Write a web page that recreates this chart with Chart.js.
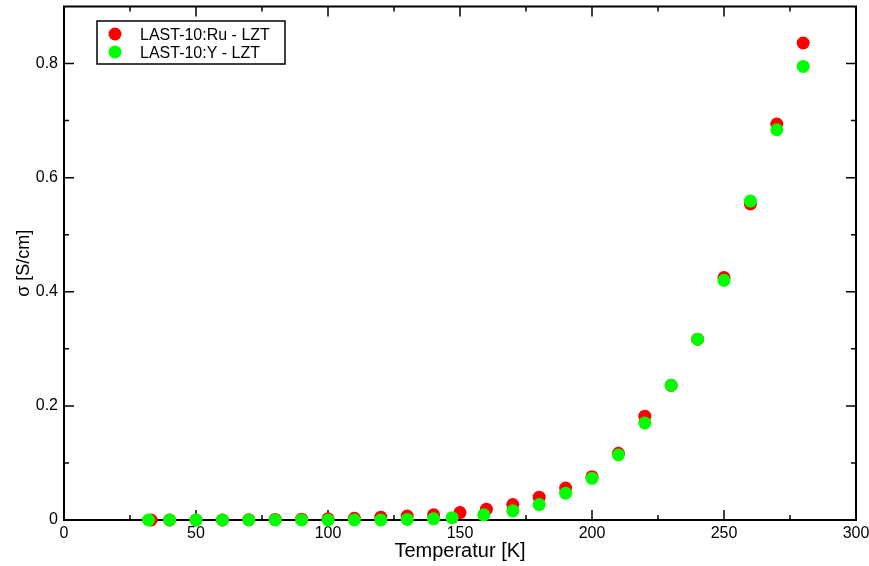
<!DOCTYPE html>
<html>
<head>
<meta charset="utf-8">
<script src="https://cdn.jsdelivr.net/npm/chart.js@4/dist/chart.umd.min.js"></script>
<style>
  html, body { margin: 0; padding: 0; background: #ffffff; }
  #wrap { width: 869px; height: 566px; }
</style>
</head>
<body>
<div id="wrap"><canvas id="chart" width="869" height="566"></canvas></div>
<script>
// Conductivity vs. temperature, two LAST-10 / LZT samples
const ruTemps = [33, 40, 50, 60, 70, 80, 90, 100, 110, 120, 130, 140, 150, 160, 170, 180, 190, 200, 210, 220, 230, 240, 250, 260, 270, 280];
const ruSigma = [0, 0, 0, 0, 0.0005, 0.001, 0.0015, 0.002, 0.003, 0.005, 0.007, 0.009, 0.013, 0.019, 0.027, 0.040, 0.056, 0.076, 0.117, 0.182, 0.236, 0.317, 0.425, 0.554, 0.694, 0.836];

const yTemps = [32, 40, 50, 60, 70, 80, 90, 100, 110, 120, 130, 140, 147, 159, 170, 180, 190, 200, 210, 220, 230, 240, 250, 260, 270, 280];
const ySigma = [0, 0, 0, 0, 0, 0, 0, 0, 0, 0, 0.001, 0.002, 0.004, 0.009, 0.016, 0.027, 0.047, 0.073, 0.114, 0.170, 0.236, 0.317, 0.420, 0.559, 0.684, 0.795];

const seriesLabels = ['LAST-10:Ru - LZT', 'LAST-10:Y - LZT'];
const seriesColors = ['#ff0000', '#00ff00'];

const xMajorTicks = [0, 50, 100, 150, 200, 250, 300];
const xMinorTicks = [25, 75, 125, 175, 225, 275];
const yMajorTicks = [0, 0.2, 0.4, 0.6, 0.8];
const yMinorTicks = [0.1, 0.3, 0.5, 0.7];

const FONT = '"Liberation Sans", Arial, Helvetica, sans-serif';

function toPoints(xs, ys) {
  return xs.map((x, i) => ({ x: x, y: ys[i] }));
}

// Closed frame with inward major/minor ticks on all four sides
const frameTicks = {
  id: 'frameTicks',
  beforeDatasetsDraw(chart) {
    const { ctx, chartArea: a, scales: { x, y } } = chart;
    ctx.save();
    ctx.strokeStyle = '#000';
    ctx.lineWidth = 2;
    ctx.strokeRect(a.left, a.top, a.right - a.left, a.bottom - a.top);
    ctx.lineWidth = 1.5;
    ctx.beginPath();
    const xt = (vals, len) => vals.forEach(v => {
      const px = x.getPixelForValue(v);
      ctx.moveTo(px, a.bottom); ctx.lineTo(px, a.bottom - len);
      ctx.moveTo(px, a.top); ctx.lineTo(px, a.top + len);
    });
    const yt = (vals, len) => vals.forEach(v => {
      const py = y.getPixelForValue(v);
      ctx.moveTo(a.left, py); ctx.lineTo(a.left + len, py);
      ctx.moveTo(a.right, py); ctx.lineTo(a.right - len, py);
    });
    xt(xMajorTicks, 10); xt(xMinorTicks, 5);
    yt(yMajorTicks, 10); yt(yMinorTicks, 5);
    ctx.stroke();
    ctx.restore();
  }
};

// Boxed legend inside the upper-left corner of the plot
const boxLegend = {
  id: 'boxLegend',
  afterDatasetsDraw(chart) {
    const { ctx } = chart;
    const bx = 97, by = 21, bw = 188, bh = 43;
    ctx.save();
    ctx.fillStyle = '#fff';
    ctx.fillRect(bx, by, bw, bh);
    ctx.strokeStyle = '#000';
    ctx.lineWidth = 1.5;
    ctx.strokeRect(bx, by, bw, bh);
    ctx.font = '16px ' + FONT;
    ctx.textBaseline = 'alphabetic';
    ctx.textAlign = 'left';
    chart.data.datasets.forEach((ds, i) => {
      const cy = 34 + i * 18;
      ctx.fillStyle = ds.backgroundColor;
      ctx.beginPath();
      ctx.arc(115, cy, 6.5, 0, Math.PI * 2);
      ctx.fill();
      ctx.fillStyle = '#000';
      ctx.fillText(ds.label, 140, cy + 6);
    });
    ctx.restore();
  }
};

new Chart(document.getElementById('chart'), {
  type: 'scatter',
  data: {
    datasets: [
      {
        label: seriesLabels[0],
        data: toPoints(ruTemps, ruSigma),
        backgroundColor: seriesColors[0],
        borderWidth: 0,
        pointRadius: 6.5,
        pointHoverRadius: 6.5,
        order: 2,
        clip: false
      },
      {
        label: seriesLabels[1],
        data: toPoints(yTemps, ySigma),
        backgroundColor: seriesColors[1],
        borderWidth: 0,
        pointRadius: 6.5,
        pointHoverRadius: 6.5,
        order: 1,
        clip: false
      }
    ]
  },
  options: {
    responsive: false,
    animation: false,
    events: [],
    layout: { padding: { top: 6, right: 13, left: 0, bottom: 0 } },
    plugins: {
      legend: { display: false },
      tooltip: { enabled: false }
    },
    scales: {
      x: {
        type: 'linear',
        min: 0,
        max: 300,
        afterBuildTicks: s => { s.ticks = xMajorTicks.map(v => ({ value: v })); },
        afterFit: s => { s.height = 46; s.paddingLeft = 0; s.paddingRight = 0; },
        grid: { display: false, drawTicks: false },
        border: { display: false },
        ticks: {
          color: '#000',
          font: { family: FONT, size: 16 },
          padding: 4,
          maxRotation: 0,
          autoSkip: false,
          callback: v => String(v)
        },
        title: {
          display: true,
          text: 'Temperatur [K]',
          color: '#000',
          font: { family: FONT, size: 20 },
          padding: { top: 0, bottom: 3 }
        }
      },
      y: {
        type: 'linear',
        min: 0,
        max: 0.9,
        afterBuildTicks: s => { s.ticks = yMajorTicks.map(v => ({ value: v })); },
        afterFit: s => { s.width = 64; s.paddingTop = 0; s.paddingBottom = 0; },
        grid: { display: false, drawTicks: false },
        border: { display: false },
        ticks: {
          color: '#000',
          font: { family: FONT, size: 16 },
          padding: 6,
          autoSkip: false,
          callback: v => (v === 0 ? '0' : v.toFixed(1))
        },
        title: {
          display: true,
          text: 'σ [S/cm]',
          color: '#000',
          font: { family: FONT, size: 18 },
          padding: { top: 13, bottom: 0 }
        }
      }
    }
  },
  plugins: [frameTicks, boxLegend]
});
</script>
</body>
</html>
